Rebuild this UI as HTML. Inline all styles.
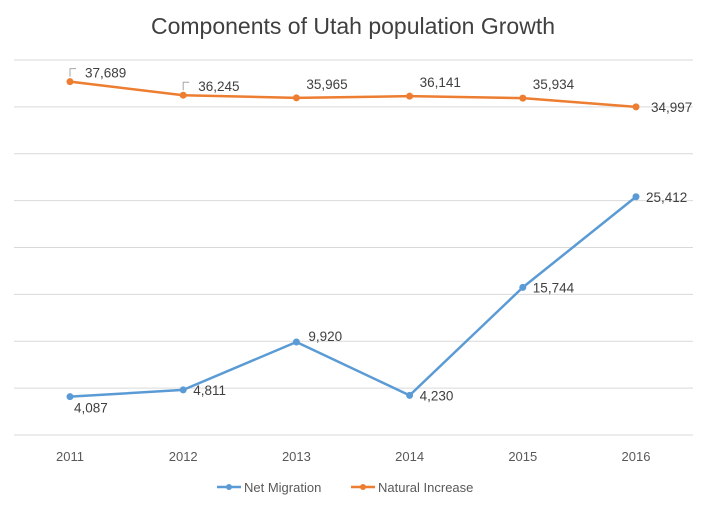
<!DOCTYPE html>
<html><head><meta charset="utf-8"><style>
body{margin:0;background:#fff;}
svg{display:block;font-family:"Liberation Sans",sans-serif;}
</style></head><body>
<svg id="c" width="707" height="509">
<text x="353" y="34" text-anchor="middle" font-size="23" fill="#404040">Components of Utah population Growth</text>
</svg>
<script>
const years = ["2011","2012","2013","2014","2015","2016"];
const netMigration = [4087,4811,9920,4230,15744,25412];
const naturalIncrease = [37689,36245,35965,36141,35934,34997];
const gridTicks = [0,5000,10000,15000,20000,25000,30000,35000,40000];
const svg = document.getElementById('c');
const NS = 'http://www.w3.org/2000/svg';
const x = i => 70 + i * 113.2;
const y = v => 435 - v * 0.009375;
function mk(tag, attrs, parent){const e=document.createElementNS(NS,tag);for(const k in attrs)e.setAttribute(k,attrs[k]);(parent||svg).appendChild(e);return e;}
gridTicks.forEach(t=>{
  const l=mk('line',{x1:14,x2:693,y1:y(t),y2:y(t),stroke:'#d9d9d9','stroke-width':1});
  
  
});
years.forEach((yr,i)=>{
  const t=mk('text',{x:x(i),y:461,'text-anchor':'middle','font-size':13,fill:'#595959'});
  t.textContent=yr;
  
  
});
function series(vals,color,name,labelPos){
  const g=mk('g',{});
  
  
  mk('polyline',{points:vals.map((v,i)=>x(i)+','+y(v)).join(' '),fill:'none',stroke:color,'stroke-width':2.5,'stroke-linejoin':'round'},g);
  vals.forEach((v,i)=>{
    const c=mk('circle',{cx:x(i),cy:y(v),r:3.5,fill:color},g);
    
    
    const p=labelPos(i,v);
    const t=mk('text',{x:p[0],y:p[1],'font-size':13.5,fill:'#404040'},g);
    t.textContent=v.toLocaleString('en-US');
    
    
    if(p[2]){mk('path',{d:`M${x(i)} ${y(v)-5} v-8 h6`,fill:'none',stroke:'#a6a6a6','stroke-width':1},g);}
  });
}
series(naturalIncrease,'#ed7d31','natural-increase',(i,v)=>{
  if(i<2) return [x(i)+15,y(v)-4,true];
  if(i===5) return [x(i)+15,y(v)+5,false];
  return [x(i)+10,y(v)-9,false];
});
series(netMigration,'#5b9bd5','net-migration',(i,v)=>{
  if(i===0) return [x(i)+4,y(v)+16,false];
  if(i===2) return [x(i)+12,y(v)-1,false];
  return [x(i)+10,y(v)+5,false];
});
function legend(lx,label,color,name){
  const g=mk('g',{});
  
  
  mk('line',{x1:lx,x2:lx+24,y1:487,y2:487,stroke:color,'stroke-width':2.5},g);
  mk('circle',{cx:lx+12,cy:487,r:3,fill:color},g);
  const t=mk('text',{x:lx+27,y:492,'font-size':13,fill:'#595959'},g);
  t.textContent=label;
}
legend(217,'Net Migration','#5b9bd5','legend-net-migration');
legend(351,'Natural Increase','#ed7d31','legend-natural-increase');
</script>
</body></html>
